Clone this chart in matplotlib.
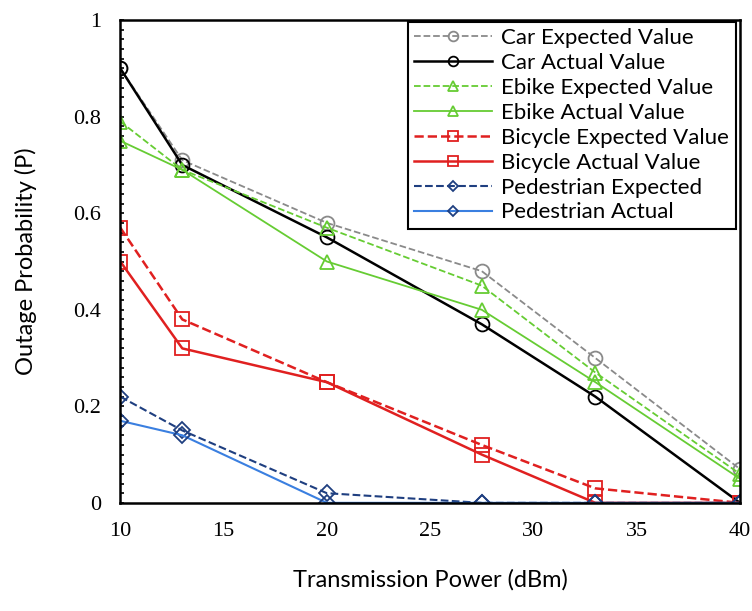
import matplotlib.pyplot as plt
from matplotlib.ticker import MultipleLocator

# transmission power levels (dBm)
power = [10, 13, 20, 27.5, 33, 40]

car_expected = [0.90, 0.71, 0.58, 0.48, 0.30, 0.07]
car_actual = [0.90, 0.70, 0.55, 0.37, 0.22, 0.00]
ebike_expected = [0.79, 0.69, 0.57, 0.45, 0.27, 0.06]
ebike_actual = [0.75, 0.69, 0.50, 0.40, 0.25, 0.05]
bicycle_expected = [0.57, 0.38, 0.25, 0.12, 0.03, 0.00]
bicycle_actual = [0.50, 0.32, 0.25, 0.10, 0.00, 0.00]
ped_expected = [0.22, 0.15, 0.02, 0.00, 0.00, 0.00]
ped_actual = [0.17, 0.14, 0.00, 0.00, 0.00, 0.00]

fig = plt.figure(figsize=(7.52, 6.11), dpi=100)
ax = fig.add_axes([0.16, 0.177, 0.824, 0.79])

mk = dict(markersize=10, fillstyle='none', markeredgewidth=1.3)
ax.plot(power, car_expected, '--', color='#8a8a8a', marker='o', lw=1.3, label='Car Expected Value', **mk)
ax.plot(power, car_actual, '-', color='black', marker='o', lw=1.8, label='Car Actual Value', **mk)
ax.plot(power, ebike_expected, '--', color='#66cc33', marker='^', lw=1.3, label='Ebike Expected Value', **mk)
ax.plot(power, ebike_actual, '-', color='#66cc33', marker='^', lw=1.3, label='Ebike Actual Value', **mk)
ax.plot(power, bicycle_expected, '--', color='#e02020', marker='s', lw=1.8, label='Bicycle Expected Value', **mk)
ax.plot(power, bicycle_actual, '-', color='#e02020', marker='s', lw=1.8, label='Bicycle Actual Value', **mk)
ax.plot(power, ped_expected, '--', color='#1f3f80', marker='D', lw=1.5, label='Pedestrian Expected',
        markersize=8, fillstyle='none', markeredgewidth=1.3)
ax.plot(power, ped_actual, '-', color='#3a7fe0', marker='D', lw=1.5, label='Pedestrian Actual',
        markersize=8, fillstyle='none', markeredgewidth=1.3, markeredgecolor='#1f3f80')

ax.set_xlim(10, 40)
ax.set_ylim(0, 1)
ax.set_xticks([10, 15, 20, 25, 30, 35, 40])
ax.set_yticks([0, 0.2, 0.4, 0.6, 0.8, 1])
ax.set_yticklabels(['0', '0.2', '0.4', '0.6', '0.8', '1'])
ax.yaxis.set_minor_locator(MultipleLocator(0.02))
ax.tick_params(axis='y', which='both', direction='in', length=3, width=1.2)
ax.tick_params(axis='x', length=0, pad=14)
ax.tick_params(axis='y', pad=14)
for lab in ax.get_xticklabels() + ax.get_yticklabels():
    lab.set_fontfamily('Liberation Serif')
    lab.set_fontsize(16)

for s in ax.spines.values():
    s.set_linewidth(1.8)

ax.set_xlabel('Transmission Power (dBm)', fontsize=17, family='Lato', labelpad=20)
ax.set_ylabel('Outage Probability (P)', fontsize=17, family='Lato', labelpad=26)

leg = ax.legend(loc='upper right', bbox_to_anchor=(0.993, 0.997), prop={'family': 'Lato', 'size': 16},
                fancybox=False, edgecolor='black', framealpha=1, handlelength=3.5,
                borderaxespad=0, labelspacing=0.22, borderpad=0.3, handletextpad=0.4,
                markerscale=0.7)
leg.get_frame().set_linewidth(1.5)

plt.savefig('out.png', dpi=100)
